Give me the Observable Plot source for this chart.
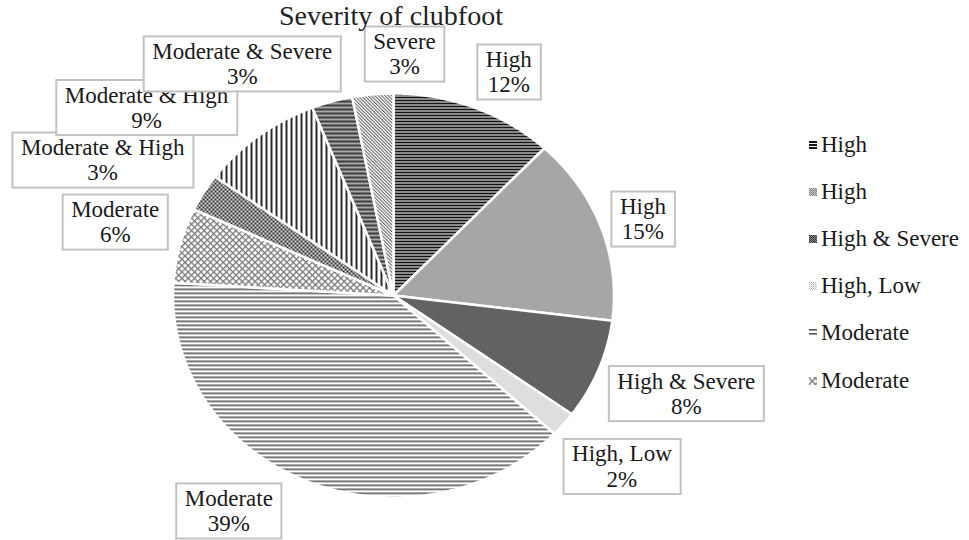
<!DOCTYPE html>
<html><head><meta charset="utf-8">
<script src="https://cdn.jsdelivr.net/npm/d3@7"></script>
<script src="https://cdn.jsdelivr.net/npm/@observablehq/plot@0.6"></script>
<style>
body{margin:0;background:#fff;}
#wrap{position:relative;width:969px;height:540px;overflow:hidden;background:#fff;}
#title{position:absolute;left:0;top:4px;width:782px;height:24px;text-align:center;font:28px "Liberation Serif","Times New Roman",serif;color:#222;line-height:24px;z-index:2;}
#chart{position:absolute;left:0;top:0;}
#legend{position:absolute;left:809px;top:121px;font:23px "Liberation Serif","Times New Roman",serif;color:#1a1a1a;}
.row{height:47.2px;display:flex;align-items:center;white-space:nowrap;}
.row svg{margin-right:4px;}
</style></head><body>
<div id="wrap">
<svg id="defs" width="0" height="0" style="position:absolute;left:0;top:0">
<defs>
<pattern id="pat0" width="4" height="3" patternUnits="userSpaceOnUse"><rect width="4" height="3" fill="#fff"/><rect width="4" height="2" fill="#151515"/></pattern>
<pattern id="pat1" width="2" height="2" patternUnits="userSpaceOnUse"><rect width="2" height="2" fill="#c9c9c9"/><rect width="1" height="1" fill="#7a7a7a"/><rect x="1" y="1" width="1" height="1" fill="#8a8a8a"/></pattern>
<pattern id="pat2" width="2" height="2" patternUnits="userSpaceOnUse"><rect width="2" height="2" fill="#8a8a8a"/><rect width="1" height="1" fill="#333"/><rect x="1" y="1" width="1" height="1" fill="#3f3f3f"/></pattern>
<pattern id="pat3" width="2" height="2" patternUnits="userSpaceOnUse"><rect width="2" height="2" fill="#fff"/><rect width="1" height="1" fill="#aaa"/><rect x="1" y="1" width="1" height="1" fill="#d0d0d0"/></pattern>
<pattern id="pat4" width="4" height="4" patternUnits="userSpaceOnUse"><rect width="4" height="4" fill="#fff"/><rect width="4" height="1" fill="#555"/><rect y="1" width="4" height="1" fill="#999"/></pattern>
<pattern id="pat5" width="4.5" height="4.5" patternUnits="userSpaceOnUse" patternTransform="rotate(45)"><rect width="4.5" height="4.5" fill="#fff"/><rect width="4.5" height="1.3" fill="#7a7a7a"/><rect width="1.3" height="4.5" fill="#7a7a7a"/></pattern>
<pattern id="pat6" width="4" height="4" patternUnits="userSpaceOnUse"><rect width="4" height="4" fill="#d8d8d8"/><rect width="2" height="2" fill="#333"/><rect x="2" y="2" width="2" height="2" fill="#333"/></pattern>
<pattern id="pat7" width="5" height="5" patternUnits="userSpaceOnUse"><rect width="5" height="5" fill="#fff"/><rect width="2" height="5" fill="#2a2a2a"/></pattern>
<pattern id="pat8" width="4" height="4" patternUnits="userSpaceOnUse"><rect width="4" height="4" fill="#a8a8a8"/><rect width="4" height="2" fill="#3d3d3d"/></pattern>
<pattern id="pat9" width="2.4" height="2.4" patternUnits="userSpaceOnUse" patternTransform="rotate(-45)"><rect width="2.4" height="2.4" fill="#fff"/><rect width="1.1" height="2.4" fill="#6a6a6a"/></pattern>
</defs>
</svg>
<div id="chart"></div>
<div id="title">Severity of clubfoot</div>
<div id="legend"></div>
</div>
<script>
// ---- data ----
const categories = ["High", "High", "High & Severe", "High, Low", "Moderate", "Moderate",
  "Moderate & High", "Moderate & High", "Moderate & Severe", "Severe"];
const shares = [12, 15, 8, 2, 39, 6, 3, 9, 3, 3];
const legendLabels = ["High", "High", "High & Severe", "High, Low", "Moderate", "Moderate"];

// ---- layout (label box centres, in pie-radius units) ----
const labelX = [0.523, 1.131, 1.328, 1.036, -0.747, -1.262, -1.319, -1.120, -0.686, 0.050];
const labelY = [1.109, 0.381, -0.483, -0.844, -1.064, 0.366, 0.673, 0.933, 1.149, 1.198];

// pie geometry from the shares
const arcs = d3.pie().sort(null).value(d => d)(shares);
const slices = arcs.map((a) => {
  const n = Math.max(2, Math.ceil((a.endAngle - a.startAngle) / (Math.PI / 360)));
  const pts = [{x: 0, y: 0}];
  for (let k = 0; k <= n; k++) {
    const t = a.startAngle + (a.endAngle - a.startAngle) * k / n;
    pts.push({x: Math.sin(t), y: Math.cos(t)});
  }
  return pts;
});

const labels = categories.map((c, i) => ({x: labelX[i], y: labelY[i], t: `${c}\n${shares[i]}%`}));

const chart = Plot.plot({
  width: 969,
  height: 540,
  x: {domain: [-1, 1], range: [172.5, 613.5], axis: null},
  y: {domain: [-1, 1], range: [497, 93], axis: null},
  style: {background: "transparent", overflow: "visible"},
  marks: [
    ...slices.map((pts, i) => Plot.line(pts, {
      x: "x", y: "y", fill: `url(#pat${i})`, stroke: "white", strokeWidth: 2.5,
      strokeLinejoin: "round", curve: "linear-closed"
    })),
    Plot.text(labels, {
      x: "x", y: "y", text: "t", fontSize: 23, fontFamily: "Liberation Serif, Times New Roman, serif",
      lineHeight: 1.09, fill: "#1a1a1a", lineAnchor: "middle", textAnchor: "middle"
    })
  ]
});
document.getElementById("chart").append(chart);

// white boxes with grey borders behind each data label
const ns = "http://www.w3.org/2000/svg";
chart.querySelectorAll('g[aria-label="text"] text').forEach(t => {
  const bb = t.getBBox();
  const r = document.createElementNS(ns, "rect");
  r.setAttribute("x", bb.x - 8.5);
  r.setAttribute("y", bb.y - 2.5);
  r.setAttribute("width", bb.width + 17);
  r.setAttribute("height", bb.height + 5);
  r.setAttribute("fill", "#fff");
  r.setAttribute("stroke", "#c2c2c2");
  r.setAttribute("stroke-width", 2);
  const tr = t.getAttribute("transform");
  if (tr) r.setAttribute("transform", tr);
  t.parentNode.insertBefore(r, t);
});

// legend
const legend = document.getElementById("legend");
legendLabels.forEach((l, i) => {
  const row = document.createElement("div");
  row.className = "row";
  row.innerHTML = `<svg width="8" height="8"><rect width="8" height="8" fill="url(#pat${i})"/></svg><span>${l}</span>`;
  legend.append(row);
});
</script>
</body></html>
